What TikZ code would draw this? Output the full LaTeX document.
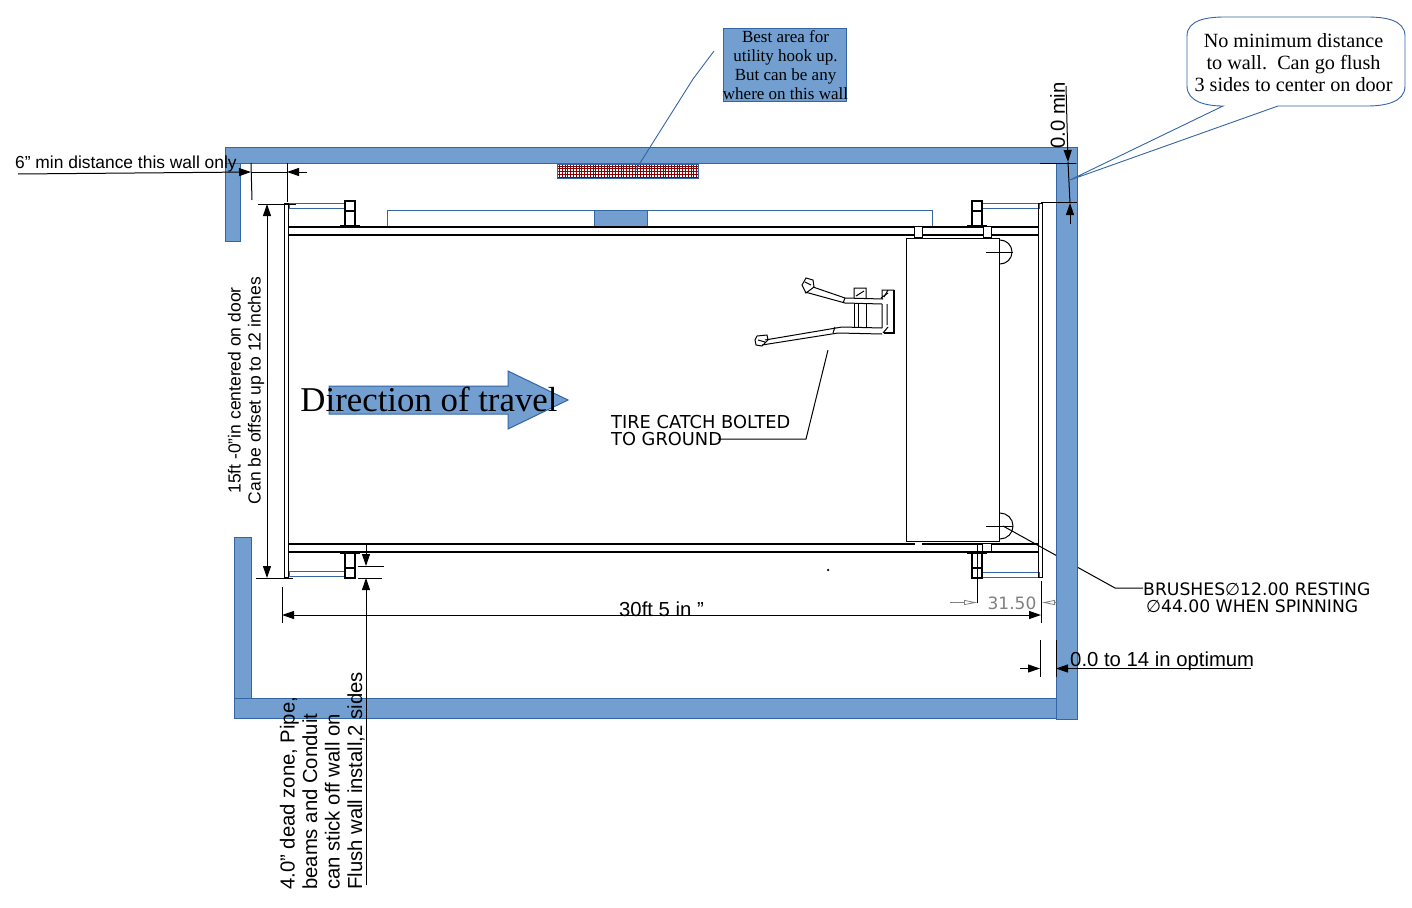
\documentclass[tikz,border=0pt]{standalone}
\usepackage{fontspec}
\setmainfont{Liberation Serif}
\setsansfont{Liberation Sans}
\newfontfamily\cadfont{DejaVu Sans}
\usetikzlibrary{arrows.meta}
\definecolor{wallblue}{HTML}{729FCF}
\definecolor{edgeblue}{HTML}{3465A4}
\definecolor{hatchred}{HTML}{8B0000}
\begin{document}
\begin{tikzpicture}[x=1pt,y=-1pt,
    wall/.style={draw=edgeblue, fill=wallblue, line width=1pt},
    thin box/.style={draw=edgeblue, line width=1pt},
    rail/.style={draw=black, line width=2pt},
    frame/.style={draw=black, line width=1pt},
    post/.style={draw=black, line width=2pt},
    dim/.style={draw=black, line width=1pt},
    tip/.style={-{Triangle[length=12pt,width=8pt]}},
    grey tip/.style={draw=gray, line width=.8pt, -{Triangle[open,length=13pt,width=5pt]}},
    sans/.style={font=\sffamily\fontsize{20.3}{22.5}\selectfont, inner sep=0pt},
    cad/.style={font=\cadfont\fontsize{17.2}{17}\selectfont, inner sep=0pt, align=left},
    catch/.style={draw=black, line width=1pt}]
\useasboundingbox (0,0) rectangle (1412,907);
% leaders that pass behind the walls
\coordinate (brushhead) at (1003,526);
\coordinate (brushbend) at (1115,588);
\node[cad, anchor=west] (brushtext) at (1143,597.5) {BRUSHES∅12.00 RESTING\\ \,∅44.00 WHEN SPINNING};
\draw[frame] (brushhead) -- (brushbend) -- (1143,588);
% walls
\draw[wall] (225.5,147.5) rectangle (1077,163);
\draw[wall] (225.5,163) rectangle (240.5,241);
\draw[wall] (1056,163) rectangle (1077,719);
\draw[wall] (234.5,537.5) rectangle (251,698);
\draw[wall] (234.5,698) rectangle (1056,718.5);
% utility area
\draw[thin box] (557.5,164) rectangle (698.5,178);
\foreach \x in {559.5,562.3,...,698} \draw[hatchred, line width=.9pt] (\x,164.5) -- (\x,177.5);
\foreach \y in {166,168.8,...,178} \draw[hatchred, line width=.9pt] (558,\y) -- (698,\y);
\draw[wall] (723.5,28.5) rectangle (846.5,101);
\node[font=\fontsize{17}{19}\selectfont, inner sep=0pt, align=center] (utility) at (785.5,65) {Best area for\\utility hook up.\\But can be any\\where on this wall};
\coordinate (utiltail) at (714,51);
\draw[edgeblue, line width=.9pt] (utiltail) -- (693,79) -- (635,171);
% lift frame
\draw[thin box] (387,210) rectangle (932,226);
\draw[wall] (594,210) rectangle (647,226);
\draw[thin box] (289,203) rectangle (345,208);
\draw[thin box] (982,203) rectangle (1039,208);
\draw[thin box] (289,571.5) rectangle (345,576.5);
\draw[thin box] (982,572) rectangle (1039,577);
\draw[frame] (284,203) rectangle (288,577);
\draw[frame] (1038,203) rectangle (1042,577);
\draw[rail] (288,227) -- (1038,227);
\draw[rail] (288,235) -- (1038,235);
\draw[rail] (288,544) -- (1038,544);
\draw[rail] (288,552) -- (1038,552);
% posts
\foreach \x/\b in {345/340,972/967} {
  \draw[post] (\x,201) rectangle +(10,10);
  \draw[post] (\x,211) -- (\x,226) (\x+10,211) -- (\x+10,226);
  \draw[post] (\b,226) -- +(20,0);
  \draw[post] (\x,568) rectangle +(10,10);
  \draw[post] (\x,553) -- (\x,568) (\x+10,553) -- (\x+10,568);
  \draw[post] (\b,553) -- +(20,0);
}
% gantry
\draw[frame, fill=white] (906.5,238) rectangle (999.5,541);
\draw[frame, fill=white] (914,226) rectangle (922,237);
\draw[frame, fill=white] (983,226) rectangle (991,237);
\fill[white] (915,542.5) rectangle (922,550);
\draw[frame, fill=white] (982,543) rectangle (991,551);
\draw[frame] (977,544) -- (977,603);
\draw[frame] (1000,240) arc[start angle=-90, end angle=90, radius=12];
\draw[frame] (1000,513) arc[start angle=-90, end angle=90, radius=13];
\draw[frame] (986,252) -- (1013,252);
\draw[frame] (986,526) -- (1013,526);
% tire catch
\draw[catch] (813,287) -- (845,298) -- (883,299) (805,292) -- (845,303) -- (882,304);
\draw[catch] (802,285) -- (806,278) -- (813,280) -- (814,287) -- (806,293) -- cycle (805,282) -- (811,285);
\draw[catch] (765,340) -- (842,327) -- (882,328) (762,345) -- (838,333) -- (882,334);
\draw[catch] (755,340) -- (757,336) -- (767,335) -- (768,340) -- (762,346) -- (756,345) -- cycle (758,340) -- (765,342);
\draw[catch] (854,298) -- (854,288) -- (866,288) -- (866,298) (856,296) -- (864,291);
\draw[catch] (854,304) -- (854,328) (866,304) -- (866,328) (858,304) -- (858,327);
\draw[catch] (882,299) -- (882,290) -- (894,290) (882,304) -- (882,328) (881,298) -- (888,293);
\draw[line width=1.6pt] (894,290) -- (894,333) -- (884,333);
\draw[catch] (887,304) -- (887,325) (884,297) -- (888,290) (883,333) -- (888,327);
\draw[catch] (835,327) -- (833,333) (845,298) -- (843,303);
\node[cad, font=\cadfont\fontsize{17.8}{17}\selectfont, anchor=north west] (tirecatch) at (611,415) {TIRE CATCH BOLTED\\TO GROUND};
\coordinate (tirehead) at (828,350);
\draw[frame] (718,439) -- (806,439) -- (tirehead);
\node[inner sep=0pt, minimum size=2.5pt, fill=black, circle] (speck) at (828,570) {};
% direction arrow
\draw[wall] (329,386) -- (508,386) -- (508,371) -- (568,400) -- (508,429) -- (508,414) -- (329,414) -- cycle;
\node[font=\fontsize{34.8}{36}\selectfont, inner sep=0pt] (direction) at (429,399) {Direction of travel};
% callout
\draw[draw=edgeblue, line width=.9pt, fill=white] (1225,17) -- (1367,17) to[out=0,in=90] (1405,36) -- (1405,86) to[out=-90,in=0] (1367,106) -- (1278,106) -- (1070,180) -- (1223,106) to[out=180,in=-90] (1187,86) -- (1187,36) to[out=90,in=180] cycle;
\node[font=\fontsize{20.2}{22}\selectfont, inner sep=0pt, align=center] (flush) at (1293.5,62.5) {No minimum distance\\to wall.\ \ Can go flush\\3 sides to center on door};
% 6 in dimension
\node[sans, font=\sffamily\fontsize{17.4}{20}\selectfont, anchor=west] (sixin) at (15,163.5) {6” min distance this wall only};
\coordinate (sixa) at (251,172);
\coordinate (sixb) at (287,172);
\draw[dim, tip] (18,174) -- (sixa);
\draw[dim] (sixa) -- (sixb);
\draw[dim, tip] (307,172) -- (sixb);
\draw[dim] (251,163) -- (252,200);
\draw[dim] (287,163) -- (287,202);
% 15 ft dimension
\coordinate (widetop) at (267,204);
\coordinate (widebot) at (267,578);
\draw[dim, {Triangle[length=12pt,width=8pt]}-{Triangle[length=12pt,width=8pt]}] (widetop) -- (widebot);
\draw[dim] (258,204) -- (296,204);
\draw[dim] (256,578) -- (293,578);
\node[sans, rotate=90, font=\sffamily\fontsize{17.5}{20}\selectfont, align=center] (widetext) at (246,390.5) {15ft -0”in centered on door\\Can be offset up to 12 inches};
% 4 in dead zone
\coordinate (deada) at (366,566);
\coordinate (deadb) at (366,578);
\draw[dim, tip] (366,545) -- (deada);
\draw[dim, tip] (366,885) -- (deadb);
\draw[dim] (358,566) -- (384,566);
\draw[dim] (358,578) -- (382,578);
\node[sans, rotate=90, align=left, anchor=south west] (deadtext) at (365,890) {4.0” dead zone, Pipe,\\beams and Conduit\\can stick off wall on\\Flush wall install,2 sides};
% 30 ft dimension
\coordinate (longa) at (282,615);
\coordinate (longb) at (1041,615);
\draw[dim, {Triangle[length=12pt,width=8pt]}-{Triangle[length=12pt,width=8pt]}] (longa) -- (longb);
\draw[dim] (282,587) -- (282,623);
\draw[dim] (1041,581) -- (1041,623);
\node[sans] (longtext) at (661.5,609) {30ft 5 in \symbol{34}};
% 31.50
\node[sans, font=\cadfont\fontsize{17}{20}\selectfont, text=gray] (gaptext) at (1012,603) {31.50};
\draw[grey tip] (950,602.5) -- (977,602.5);
\draw[grey tip] (1058,602.5) -- (1042,602.5);
% right hand gap
\coordinate (gapa) at (1040,668.5);
\coordinate (gapb) at (1056,668.5);
\draw[dim] (1040,640) -- (1040,677);
\draw[dim] (1056,640) -- (1056,677);
\draw[dim, tip] (1020,668.5) -- (gapa);
\draw[dim, tip] (1251,668.5) -- (gapb);
\node[sans, anchor=west] (gaptwo) at (1070,661) {0.0 to 14 in optimum};
% top right dimension
\coordinate (mina) at (1068,162);
\coordinate (minb) at (1070,203);
\draw[dim, tip] (1066,86) -- (mina);
\draw[dim] (mina) -- (minb);
\draw[dim, tip] (1070,224) -- (minb);
\draw[dim] (1040,163) -- (1076,163);
\draw[dim] (1041,202.5) -- (1077,202.5);
\node[sans, rotate=90] (mintext) at (1057.5,115.5) {0.0 min};
\end{tikzpicture}
\end{document}
